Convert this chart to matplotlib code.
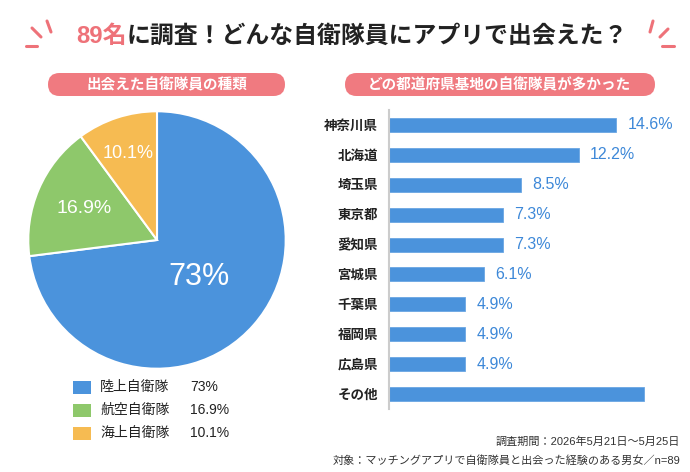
import matplotlib
matplotlib.use("Agg")
import matplotlib.pyplot as plt
import numpy as np
from matplotlib.patches import FancyBboxPatch, Rectangle

plt.rcParams['font.family'] = ['Liberation Sans', 'Noto Sans CJK JP', 'DejaVu Sans']

# データ
branches = ["陸上自衛隊", "航空自衛隊", "海上自衛隊"]
branch_share = [73, 16.9, 10.1]
branch_colors = ["#4b93dc", "#8ec86b", "#f6bb52"]

prefs = ["神奈川県", "北海道", "埼玉県", "東京都", "愛知県", "宮城県",
         "千葉県", "福岡県", "広島県", "その他"]
pref_share = [14.6, 12.2, 8.5, 7.3, 7.3, 6.1, 4.9, 4.9, 4.9, 16.4]
pref_labels = ["14.6%", "12.2%", "8.5%", "7.3%", "7.3%", "6.1%",
               "4.9%", "4.9%", "4.9%", ""]

title_red = "89名"
title_rest = "に調査！どんな自衛隊員にアプリで出会えた？"
sub_left = "出会えた自衛隊員の種類"
sub_right = "どの都道府県基地の自衛隊員が多かった"
note1 = "調査期間：2026年5月21日〜5月25日"
note2 = "対象：マッチングアプリで自衛隊員と出会った経験のある男女／n=89"

pink = "#ee7279"
dark = "#222222"
blue = "#4b93dc"

W, H = 690, 472
fig = plt.figure(figsize=(W / 100, H / 100), dpi=100)
fig.patch.set_facecolor("white")

# 背景用 (ピクセル座標)
bg = fig.add_axes([0, 0, 1, 1])
bg.set_xlim(0, W)
bg.set_ylim(H, 0)
bg.axis("off")

# タイトル
t1 = bg.text(76, 36, title_red, color=pink, fontsize=17.2, fontweight="bold",
             ha="left", va="center")
t2 = bg.annotate(title_rest, xy=(1, 0), xycoords=t1, color=dark, fontsize=17.2,
                 fontweight="bold", ha="left", va="bottom")

# 飾り線
for (x1, y1, x2, y2) in [(47, 21, 51, 32), (32, 28, 41, 37), (26, 46, 37, 46),
                         (653, 21, 650, 32), (668, 29, 660, 37), (662, 46, 674, 46)]:
    bg.plot([x1, x2], [y1, y2], color=pink, lw=2.2, solid_capstyle="round")

# 見出しピル
for (x0, x1, txt) in [(48, 285, sub_left), (345, 655, sub_right)]:
    bg.add_patch(FancyBboxPatch((x0, 73), x1 - x0, 23,
                                boxstyle="round,pad=0,rounding_size=11.5",
                                fc="#f07a80", ec="none"))
    bg.text((x0 + x1) / 2, 85, txt, color="white", fontsize=10.5,
            fontweight="bold", ha="center", va="center")

# 凡例
for i, (name, c, v) in enumerate(zip(branches, branch_colors, branch_share)):
    y = 387 + i * 23
    bg.add_patch(Rectangle((73, y - 6.5), 18, 13, fc=c, ec="none"))
    bg.text(100, y, name, fontsize=10, color=dark, ha="left", va="center")
    bg.text(190, y, f"{v:g}%", fontsize=10, color=dark, ha="left", va="center")

# 注記
bg.text(680, 442, note1, fontsize=8, color="#333333", ha="right", va="center")
bg.text(680, 461, note2, fontsize=8, color="#333333", ha="right", va="center")

# 円グラフ
cx, cy, r = 157, 240, 130
pax = fig.add_axes([(cx - r) / W, (H - cy - r) / H, 2 * r / W, 2 * r / H])
wedges, texts, autotexts = pax.pie(branch_share, colors=branch_colors,
                                   startangle=90, counterclock=False,
                                   autopct=lambda p: f"{p:.3g}%",
                                   wedgeprops=dict(edgecolor="white", linewidth=1.5))
dist = [0.43, 0.62, 0.71]
sizes = [22, 14, 13]
for w, at, d, s in zip(wedges, autotexts, dist, sizes):
    ang = np.deg2rad((w.theta1 + w.theta2) / 2)
    at.set_position((d * np.cos(ang), d * np.sin(ang)))
    at.set_color("white")
    at.set_fontsize(s)
pax.set_xlim(-1.01, 1.01)
pax.set_ylim(-1.01, 1.01)

# 横棒グラフ
bax = fig.add_axes([389 / W, (H - 409) / H, 296 / W, 299 / H])
ypos = np.arange(len(prefs))
bars = bax.barh(ypos, pref_share, height=0.47, color=blue, edgecolor="#6aa6e3",
                linewidth=0.6)
bax.set_ylim(len(prefs) - 0.5, -0.5)
bax.set_xlim(0, 19)
bax.set_yticks(ypos)
bax.set_yticklabels(prefs, fontsize=9.7, fontweight="bold", color=dark)
bax.tick_params(axis="y", length=0, pad=8)
bax.set_xticks([])
for s in ["top", "right", "bottom"]:
    bax.spines[s].set_visible(False)
bax.spines["left"].set_color("#cccccc")
bax.spines["left"].set_linewidth(1.5)
for b, lab in zip(bars, pref_labels):
    bax.text(b.get_width() + 0.7, b.get_y() + b.get_height() / 2, lab,
             color="#3d88d8", fontsize=11.5, ha="left", va="center")
bax.patch.set_alpha(0)

fig.savefig("out.png", dpi=100)
